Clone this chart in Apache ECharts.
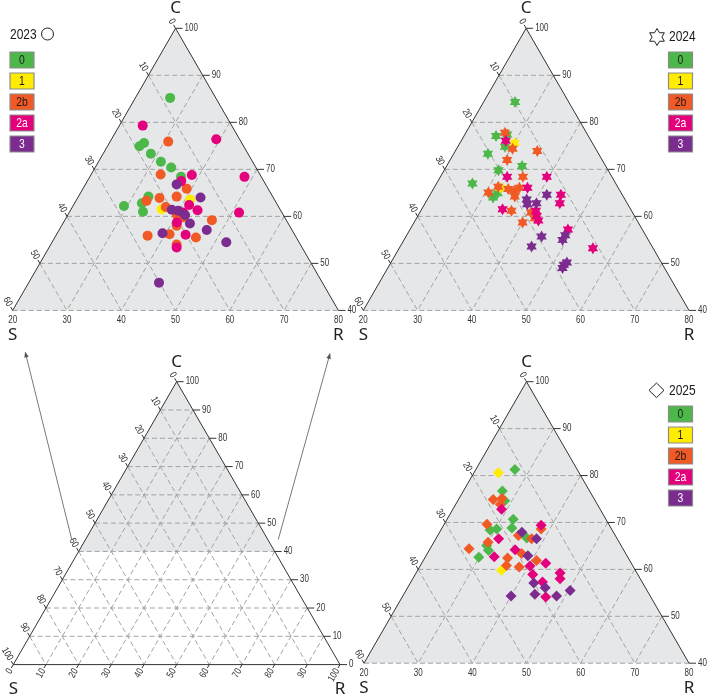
<!DOCTYPE html>
<html>
<head>
<meta charset="utf-8">
<title>Ternary C-S-R 2023-2025</title>
<script src="https://cdn.jsdelivr.net/npm/echarts@6/dist/echarts.min.js"></script>
<style>
html,body{margin:0;padding:0;background:#fff;}
#chartMain{width:708px;height:697px;}
</style>
</head>
<body>
<div id="chartMain"></div>
<script>
// categories and colours
var CATS = ['0', '1', '2b', '2a', '3'];
var CAT_COLORS = ['#4cb849', '#ffec00', '#f15a24', '#e4007c', '#7b2c8e'];
var CAT_TEXT = ['#1a1a1a', '#1a1a1a', '#1a1a1a', '#ffffff', '#ffffff'];

// points as [C, R]  (S = 100 - C - R)
var d23_0 = [[85.2,6.4],[75.6,6.4],[74.9,5.9],[73.3,8.8],[71.6,11.5],[70.4,14.0],[68.4,16.8],[64.2,12.9],[62.8,12.4],[62.2,9.4],[61.0,13.5]];
var d23_1 = [[63.6,20.9],[61.5,16.7]];
var d23_2b = [[75.9,10.7],[68.9,12.8],[65.9,19.1],[64.2,18.1],[63.9,15.1],[63.3,13.0],[62.0,17.2],[60.3,20.1],[59.8,21.5],[59.2,27.1],[58.0,21.2],[56.2,20.8],[55.9,16.9],[55.5,26.0],[54.0,23.2]];
var d23_2a = [[79.3,4.3],[76.4,19.3],[68.8,18.6],[68.4,28.5],[67.5,17.3],[62.4,21.3],[61.3,23.4],[60.8,21.0],[60.8,31.3],[58.7,20.9],[56.1,23.8],[53.4,23.5]];
var d23_3 = [[66.8,16.8],[64.0,22.6],[61.4,18.6],[61.2,19.9],[60.3,21.6],[58.5,23.4],[57.1,27.2],[56.4,19.4],[54.5,32.1],[45.9,24.0]];

var d24_0 = [[84.3,5.8],[77.1,5.9],[77.4,7.8],[74.8,8.7],[73.3,6.3],[70.7,13.9],[69.8,10.0],[67.0,6.6],[64.0,11.9],[64.9,12.3]];
var d24_1 = [[75.6,10.1],[66.1,12.2]];
var d24_2b = [[77.8,7.2],[74.4,10.3],[73.9,15.1],[72.0,10.5],[68.4,15.2],[66.3,11.7],[65.1,10.5],[65.8,13.8],[65.4,15.1],[66.1,15.7],[64.2,15.8],[61.2,16.7],[60.8,20.5],[59.6,21.8],[58.7,20.0]];
var d24_2a = [[76.1,8.2],[68.4,12.3],[68.4,19.6],[66.1,17.2],[64.6,24.1],[62.8,24.8],[61.5,14.9],[61.2,21.2],[60.1,21.9],[59.1,22.7],[57.2,29.1],[53.2,35.7]];
var d24_3 = [[63.6,18.3],[62.6,18.9],[62.8,20.5],[64.6,21.5],[56.0,29.2],[55.0,29.2],[55.7,25.0],[53.6,24.2],[50.2,32.4],[49.0,32.2],[49.7,32.1]];

var d25_0 = [[81.3,7.2],[76.7,7.2],[74.6,8.7],[70.7,12.2],[68.8,12.9],[68.6,10.2],[68.4,9.1],[66.7,16.7],[65.1,10.1],[64.0,11.0],[62.6,9.9]];
var d25_1 = [[80.6,4.5],[59.8,15.5]];
var d25_2b = [[74.9,6.4],[75.1,7.9],[73.9,8.2],[69.6,7.9],[67.2,14.9],[66.5,17.7],[68.6,18.4],[65.8,10.0],[64.4,7.2],[63.4,17.4],[62.4,15.3],[60.8,15.9],[60.5,18.4],[61.9,20.9]];
var d25_2a = [[72.8,9.0],[69.4,18.0],[66.5,11.6],[64.2,15.8],[62.7,12.7],[60.7,20.3],[61.3,22.9],[58.9,21.7],[59.2,26.6],[58.0,27.2],[57.3,24.3],[54.1,26.5]];
var d25_3 = [[67.9,15.2],[66.5,18.6],[62.9,18.8],[57.1,22.8],[56.1,25.4],[55.5,30.3],[54.7,24.2],[54.3,28.4],[54.3,20.0]];

// tick labels
var zoomCTicks = [40, 50, 60, 70, 80, 90, 100];
var zoomSTicks = [0, 10, 20, 30, 40, 50, 60];
var zoomBaseTicks = [20, 30, 40, 50, 60, 70, 80];
var fullTicks = [0, 10, 20, 30, 40, 50, 60, 70, 80, 90, 100];

var BG = '#e6e7e9', GRIDC = '#a3a3a3', EDGE = '#333333', TXT = '#333333';
var NARROW = '"Liberation Sans", Arial, sans-serif';
var SQUEEZE = 0.8; // condensed look of the original labels
var SANS = '"Noto Sans", "Open Sans", sans-serif';

// ternary -> cartesian: x = R + C/2, y = C
function tern(p) { return [p[1] + p[0] / 2, p[0]]; }

function seg(a, b, dashed) {
    return {
        type: 'line', silent: true,
        shape: {x1: a[0], y1: a[1], x2: b[0], y2: b[1]},
        style: {stroke: dashed ? GRIDC : EDGE, lineWidth: 1, lineDash: dashed ? [5, 3] : null}
    };
}
function txt(x, y, s, align, valign, rot, size, family, color, sx) {
    return {
        type: 'text', silent: true, x: x, y: y, rotation: rot || 0, scaleX: sx || SQUEEZE,
        style: {text: String(s), fill: color || TXT, fontSize: size || 10, fontFamily: family || NARROW, align: align, verticalAlign: valign}
    };
}
function rightTick(ch, p, t) {
    ch.push(seg(p, [p[0] + 7, p[1]]));
    ch.push(txt(p[0] + 9, p[1], t, 'left', 'middle'));
}
function slantTick(ch, p, t, dx, dy, rot) {
    ch.push(seg(p, [p[0] + dx * 4, p[1] + dy * 4]));
    ch.push(txt(p[0] + dx * 5.5, p[1] + dy * 5.5, t, 'right', 'middle', rot));
}
function letters(ch, top, left, right) {
    ch.push(txt(top[0], top[1] - 20, 'C', 'center', 'middle', 0, 17, SANS, '#222', 1));
    ch.push(txt(left[0], left[1] + 25, 'S', 'center', 'middle', 0, 17, SANS, '#222', 1));
    ch.push(txt(right[0], right[1] + 25, 'R', 'center', 'middle', 0, 17, SANS, '#222', 1));
}
function arrow(ch, a, b) {
    var dx = b[0] - a[0], dy = b[1] - a[1], l = Math.sqrt(dx * dx + dy * dy);
    var ux = dx / l, uy = dy / l;
    ch.push({type: 'line', silent: true, shape: {x1: a[0], y1: a[1], x2: b[0] - ux * 4, y2: b[1] - uy * 4}, style: {stroke: '#555', lineWidth: 0.8}});
    ch.push({type: 'polygon', silent: true, shape: {points: [b, [b[0] - ux * 6 - uy * 2.2, b[1] - uy * 6 + ux * 2.2], [b[0] - ux * 6 + uy * 2.2, b[1] - uy * 6 - ux * 2.2]]}, style: {fill: '#555'}});
}

function zoomFrame(params, api) {
    var P = function (C, R) { return api.coord([R + C / 2, C]); };
    var ch = [];
    ch.push({type: 'polygon', silent: true, shape: {points: [P(100, 0), P(40, 0), P(40, 60)]}, style: {fill: BG}});
    for (var v = 10; v <= 50; v += 10) {
        ch.push(seg(P(100 - v, 0), P(100 - v, v), true));
        ch.push(seg(P(100 - v, v), P(40, v), true));
        ch.push(seg(P(100 - v, 0), P(40, 60 - v), true));
    }
    ch.push(seg(P(40, 0), P(40, 60), true));
    ch.push(seg(P(100, 0), P(40, 0)));
    ch.push(seg(P(100, 0), P(40, 60)));
    zoomCTicks.forEach(function (c) { rightTick(ch, P(c, 100 - c), c); });
    zoomSTicks.forEach(function (s) { slantTick(ch, P(100 - s, 0), s, -0.5, -0.866, -Math.PI / 3); });
    zoomBaseTicks.forEach(function (x) {
        var p = api.coord([x, 40]);
        ch.push(txt(p[0], p[1] + 5, x, 'center', 'top'));
    });
    letters(ch, P(100, 0), P(40, 0), P(40, 60));
    return {type: 'group', children: ch};
}

function fullFrame(params, api) {
    var P = function (C, R) { return api.coord([R + C / 2, C]); };
    var ch = [];
    ch.push({type: 'polygon', silent: true, shape: {points: [P(100, 0), P(40, 0), P(40, 60)]}, style: {fill: BG}});
    for (var v = 10; v <= 90; v += 10) {
        ch.push(seg(P(v, 0), P(v, 100 - v), true));
        ch.push(seg(P(100 - v, v), P(0, v), true));
        ch.push(seg(P(100 - v, 0), P(0, 100 - v), true));
    }
    ch.push(seg(P(100, 0), P(0, 0)));
    ch.push(seg(P(100, 0), P(0, 100)));
    ch.push(seg(P(0, 0), P(0, 100)));
    fullTicks.forEach(function (c) { rightTick(ch, P(c, 100 - c), c); });
    fullTicks.forEach(function (s) { slantTick(ch, P(100 - s, 0), s, -0.5, -0.866, -Math.PI / 3); });
    fullTicks.forEach(function (r) { slantTick(ch, P(0, r), r, -0.5, 0.866, Math.PI / 3); });
    letters(ch, P(100, 0), P(0, 0), P(0, 100));
    // zoom arrows pointing to the enlarged panels
    arrow(ch, api.coord([17.9, 44.2]), api.coord([3.6, 110.7]));
    arrow(ch, api.coord([81.1, 44.2]), api.coord([97.0, 110.2]));
    return {type: 'group', children: ch};
}

function hexPoints(cx, cy, r) {
    var pts = [];
    for (var i = 0; i < 12; i++) {
        var a = -Math.PI / 2 + i * Math.PI / 6, rr = i % 2 ? r * 0.577 : r;
        pts.push([cx + rr * Math.cos(a), cy + rr * Math.sin(a)]);
    }
    return pts;
}
var STAR = 'path://M' + hexPoints(50, 50, 50).map(function (p) { return p[0].toFixed(2) + ',' + p[1].toFixed(2); }).join('L') + 'Z';

var panels = [
    {grid: 0, symbol: 'circle', size: 10, sets: [d23_0, d23_1, d23_2b, d23_2a, d23_3]},
    {grid: 1, symbol: STAR, size: 12, sets: [d24_0, d24_1, d24_2b, d24_2a, d24_3]},
    {grid: 3, symbol: 'diamond', size: 11, sets: [d25_0, d25_1, d25_2b, d25_2a, d25_3]}
];

var series = [
    {type: 'custom', xAxisIndex: 0, yAxisIndex: 0, renderItem: zoomFrame, data: [[50, 70]], silent: true, z: 1},
    {type: 'custom', xAxisIndex: 1, yAxisIndex: 1, renderItem: zoomFrame, data: [[50, 70]], silent: true, z: 1},
    {type: 'custom', xAxisIndex: 2, yAxisIndex: 2, renderItem: fullFrame, data: [[50, 50]], silent: true, z: 1},
    {type: 'custom', xAxisIndex: 3, yAxisIndex: 3, renderItem: zoomFrame, data: [[50, 70]], silent: true, z: 1}
];
panels.forEach(function (pn) {
    pn.sets.forEach(function (set, i) {
        series.push({
            type: 'scatter', name: CATS[i], xAxisIndex: pn.grid, yAxisIndex: pn.grid,
            symbol: pn.symbol, symbolSize: pn.size, symbolKeepAspect: true,
            data: set.map(tern), itemStyle: {color: CAT_COLORS[i], opacity: 1}, silent: true, z: 3
        });
    });
});

function gtext(x, y, s, color, size, align) {
    return {type: 'text', x: x, y: y, scaleX: SQUEEZE,
        style: {text: s, x: 0, y: 0, fill: color, font: size + 'px ' + NARROW, align: align, verticalAlign: 'middle'}};
}
function legendBoxes(x, y0) {
    var els = [];
    CATS.forEach(function (c, i) {
        var y = y0 + i * 21;
        els.push({type: 'rect', shape: {x: x, y: y, width: 24, height: 16}, style: {fill: CAT_COLORS[i], stroke: '#8c8c8c', lineWidth: 1.2}});
        els.push(gtext(x + 12, y + 8.5, c, CAT_TEXT[i], 13, 'center'));
    });
    return els;
}
var graphics = [].concat(
    legendBoxes(10, 52), legendBoxes(668.5, 52), legendBoxes(668.5, 406),
    [
        gtext(10, 34.5, '2023', '#1a1a1a', 15, 'left'),
        {type: 'circle', shape: {cx: 47.5, cy: 34, r: 6}, style: {fill: '#fff', stroke: '#222', lineWidth: 1}},
        {type: 'polygon', shape: {points: hexPoints(657, 37, 8.5)}, style: {fill: '#fff', stroke: '#222', lineWidth: 1}},
        gtext(669, 37, '2024', '#1a1a1a', 15, 'left'),
        {type: 'polygon', shape: {points: [[656.5, 383], [664, 390.3], [656.5, 397.6], [649, 390.3]]}, style: {fill: '#fff', stroke: '#222', lineWidth: 1}},
        gtext(669, 390.5, '2025', '#1a1a1a', 15, 'left')
    ]
);

var chart = echarts.init(document.getElementById('chartMain'));
var axisBase = {type: 'value', show: false, splitLine: {show: false}};
chart.setOption({
    animation: false,
    backgroundColor: '#ffffff',
    grid: [
        {left: 12.7, top: 28.3, width: 325.7, height: 282.1},
        {left: 363.3, top: 28.3, width: 325.7, height: 282.1},
        {left: 13.3, top: 381.7, width: 326.7, height: 282.9},
        {left: 364, top: 381.7, width: 325, height: 281.5}
    ],
    xAxis: [
        Object.assign({gridIndex: 0, min: 20, max: 80}, axisBase),
        Object.assign({gridIndex: 1, min: 20, max: 80}, axisBase),
        Object.assign({gridIndex: 2, min: 0, max: 100}, axisBase),
        Object.assign({gridIndex: 3, min: 20, max: 80}, axisBase)
    ],
    yAxis: [
        Object.assign({gridIndex: 0, min: 40, max: 100}, axisBase),
        Object.assign({gridIndex: 1, min: 40, max: 100}, axisBase),
        Object.assign({gridIndex: 2, min: 0, max: 100}, axisBase),
        Object.assign({gridIndex: 3, min: 40, max: 100}, axisBase)
    ],
    graphic: graphics,
    series: series
});
</script>
</body>
</html>
